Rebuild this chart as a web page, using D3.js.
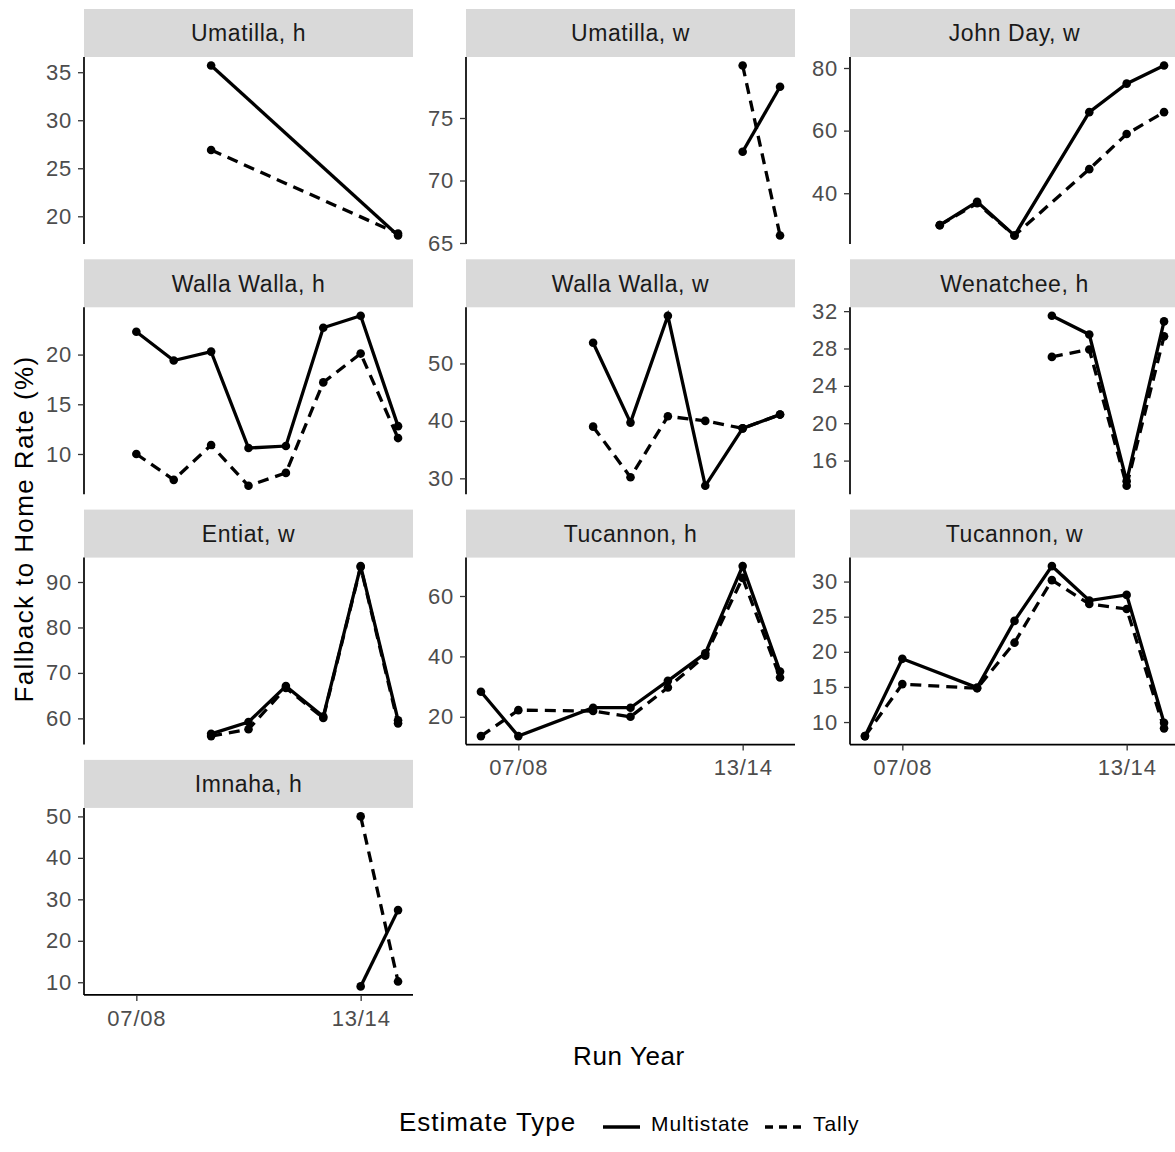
<!DOCTYPE html>
<html>
<head>
<meta charset="utf-8">
<script src="https://cdn.jsdelivr.net/npm/d3@7"></script>
<style>
  body { margin: 0; background: #fff; }
  svg { display: block; font-family: "Liberation Sans", Arial, sans-serif; }
</style>
</head>
<body>
<svg id="chart"></svg>
<script>
// run years (x positions 0..8)
const runYears = ["06/07", "07/08", "08/09", "09/10", "10/11", "11/12", "12/13", "13/14", "14/15"];
const xTickLabels = ["07/08", "13/14"];

const facetNames = ["Umatilla, h", "Umatilla, w", "John Day, w", "Walla Walla, h", "Walla Walla, w",
  "Wenatchee, h", "Entiat, w", "Tucannon, h", "Tucannon, w", "Imnaha, h"];

const seriesNames = ["Multistate", "Tally"];

// values per facet, one per run year, null = no estimate
const multistate = [
  [null, null, null, 35.7, null, null, null, null, 18.0],
  [null, null, null, null, null, null, null, 72.3, 77.5],
  [null, null, 29.8, 37.3, 26.5, null, 65.9, 75.0, 80.8],
  [null, 22.3, 19.4, 20.3, 10.6, 10.8, 22.7, 23.9, 12.8],
  [null, null, null, 53.6, 39.7, 58.3, 28.7, 38.7, 41.1],
  [null, null, null, null, null, 31.5, 29.5, 13.8, 30.9],
  [null, null, null, 56.6, 59.2, 67.1, 60.4, 93.5, 59.6],
  [28.3, 13.6, null, 23.0, 23.0, 31.9, 41.0, 69.9, 35.0],
  [8.0, 19.0, null, 14.9, 24.4, 32.2, 27.3, 28.1, 9.9],
  [null, null, null, null, null, null, null, 9.0, 27.4]
];

const tally = [
  [null, null, null, 26.9, null, null, null, null, 18.2],
  [null, null, null, null, null, null, null, 79.2, 65.6],
  [null, null, 29.8, 36.8, 26.5, null, 47.7, 58.9, 65.9],
  [null, 10.0, 7.4, 10.9, 6.8, 8.1, 17.2, 20.1, 11.6],
  [null, null, null, 39.0, 30.2, 40.8, 40.0, 38.7, 41.1],
  [null, null, null, null, null, 27.1, 27.9, 13.3, 29.3],
  [null, null, null, 56.1, 57.6, 66.7, 60.1, 93.3, 58.9],
  [13.6, 22.2, null, 21.9, 20.0, 29.7, 40.2, 66.0, 33.0],
  [8.0, 15.4, null, 14.8, 21.3, 30.2, 26.8, 26.1, 9.1],
  [null, null, null, null, null, null, null, 50.0, 10.2]
];

const yTicks = [
  [20, 25, 30, 35],
  [65, 70, 75],
  [40, 60, 80],
  [10, 15, 20],
  [30, 40, 50],
  [16, 20, 24, 28, 32],
  [60, 70, 80, 90],
  [20, 40, 60],
  [10, 15, 20, 25, 30],
  [10, 20, 30, 40, 50]
];

class FacetChart {

  constructor(config) {
    this.config = {
      parent: config.parent,
      width: config.width || 1175,
      height: config.height || 1152,
      colX: [84, 466, 850],
      panelWidth: 329,
      stripTop: 9,
      rowPitch: 250.3,
      stripHeight: 48,
      panelHeight: 187,
      ncol: 3
    };
    this.init();
  }

  init() {
    let self = this;
    self.svg = d3.select(self.config.parent)
      .attr("width", self.config.width)
      .attr("height", self.config.height);

    self.x_scale = d3.scaleLinear()
      .domain([-0.4, runYears.length - 1 + 0.4])
      .range([0, self.config.panelWidth]);

    self.dash = { Multistate: null, Tally: "11,7" };
  }

  styleTicks(sel) {
    sel.selectAll(".tick line").attr("stroke", "#333").attr("stroke-width", 1.3);
    sel.selectAll(".tick text")
      .attr("fill", "#4d4d4d")
      .style("font-size", "22px").style("letter-spacing", "0.8px")
      .style("font-family", "'Liberation Sans', Arial, sans-serif");
  }

  render() {
    let self = this;
    const c = self.config;

    facetNames.forEach((name, i) => {
      const col = i % c.ncol, row = Math.floor(i / c.ncol);
      const px = c.colX[col];
      const sy = c.stripTop + row * c.rowPitch;
      const py = sy + c.stripHeight;

      // strip
      self.svg.append("rect")
        .attr("x", px).attr("y", sy)
        .attr("width", c.panelWidth).attr("height", c.stripHeight)
        .attr("fill", "#d9d9d9");
      self.svg.append("text")
        .attr("x", px + c.panelWidth / 2).attr("y", sy + c.stripHeight / 2)
        .attr("dy", "0.36em")
        .attr("text-anchor", "middle")
        .style("font-size", "23px").style("letter-spacing", "0.6px")
        .attr("fill", "#1a1a1a")
        .text(name);

      const all = multistate[i].concat(tally[i]).filter(v => v != null);
      const lo = d3.min(all), hi = d3.max(all), pad = (hi - lo) * 0.05;
      const y_scale = d3.scaleLinear()
        .domain([lo - pad, hi + pad])
        .range([c.panelHeight, 0]);

      const g = self.svg.append("g").attr("transform", `translate(${px},${py})`);

      // y axis
      const y_axis = d3.axisLeft(y_scale).tickValues(yTicks[i]).tickSize(6).tickPadding(6);
      const yg = g.append("g").call(y_axis);
      yg.select(".domain").attr("d", `M0,0V${c.panelHeight}`).attr("stroke", "#000").attr("stroke-width", 1.7);
      self.styleTicks(yg);

      // x axis only where no panel below
      if (i + c.ncol >= facetNames.length) {
        const x_axis = d3.axisBottom(self.x_scale)
          .tickValues(xTickLabels.map(l => runYears.indexOf(l)))
          .tickFormat(d => runYears[d])
          .tickSize(6).tickPadding(9);
        const xg = g.append("g").attr("transform", `translate(0,${c.panelHeight})`).call(x_axis);
        xg.select(".domain").attr("d", `M0,0H${c.panelWidth}`).attr("stroke", "#000").attr("stroke-width", 1.7);
        self.styleTicks(xg);
      }

      const line = d3.line()
        .x(d => self.x_scale(d.x))
        .y(d => y_scale(d.y));

      [multistate[i], tally[i]].forEach((vals, s) => {
        const pts = vals.map((v, k) => ({ x: k, y: v })).filter(d => d.y != null);
        g.append("path")
          .datum(pts)
          .attr("fill", "none")
          .attr("stroke", "#000")
          .attr("stroke-width", 3.3)
          .attr("stroke-dasharray", self.dash[seriesNames[s]])
          .attr("d", line);
        g.selectAll(null)
          .data(pts)
          .enter()
          .append("circle")
          .attr("cx", line.x())
          .attr("cy", line.y())
          .attr("r", 4.3)
          .attr("fill", "#000");
      });
    });

    // axis titles
    self.svg.append("text")
      .attr("x", 629).attr("y", 1065)
      .attr("text-anchor", "middle")
      .style("font-size", "26px").style("letter-spacing", "0.6px")
      .attr("fill", "#000")
      .text("Run Year");

    self.svg.append("text")
      .attr("transform", "translate(33,529) rotate(-90)")
      .attr("text-anchor", "middle")
      .style("font-size", "26px").style("letter-spacing", "1.4px")
      .attr("fill", "#000")
      .text("Fallback to Home Rate (%)");

    // legend
    const leg = self.svg.append("g");
    leg.append("text")
      .attr("x", 399).attr("y", 1131)
      .style("font-size", "26px").style("letter-spacing", "1px")
      .text("Estimate Type");
    const keyX = [603, 765], labX = [651, 813];
    seriesNames.forEach((s, k) => {
      leg.append("line")
        .attr("x1", keyX[k]).attr("x2", keyX[k] + 37)
        .attr("y1", 1127).attr("y2", 1127)
        .attr("stroke", "#000").attr("stroke-width", 3.3)
        .attr("stroke-dasharray", s === "Tally" ? "8,6" : null);
      leg.append("text")
        .attr("x", labX[k]).attr("y", 1131)
        .style("font-size", "21px").style("letter-spacing", "0.9px")
        .text(s);
    });
  }
}

const chart = new FacetChart({ parent: "#chart", width: 1175, height: 1152 });
chart.render();
</script>
</body>
</html>
